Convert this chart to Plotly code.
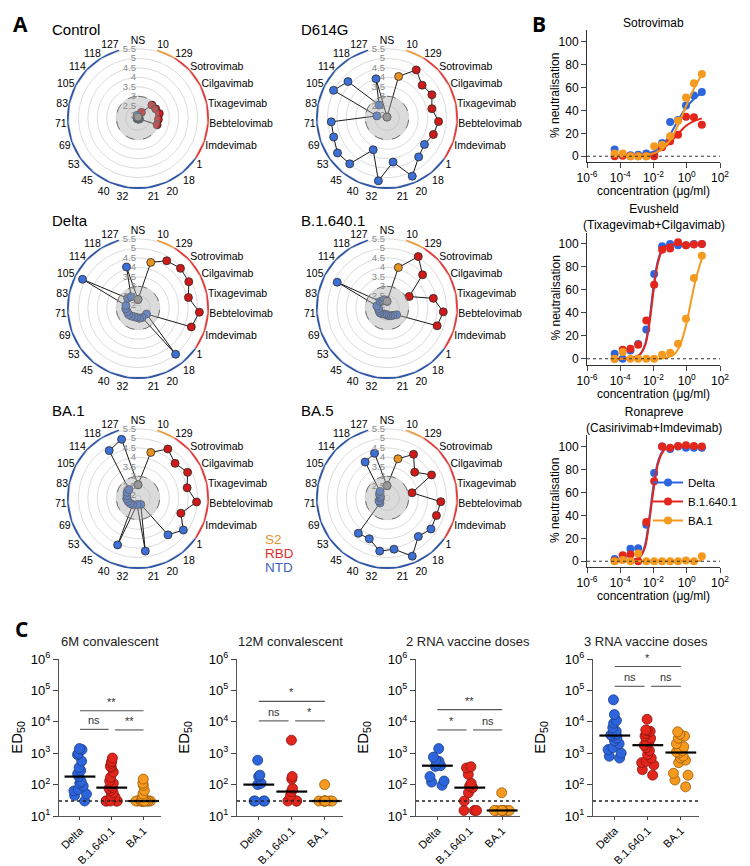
import math
import numpy as np
import plotly.graph_objects as go

W, H = 750, 866
FONT = "Liberation Sans, Arial, sans-serif"


def fx(p):
    return p / W


def fy(p):
    return 1 - p / H


# ---------------- Panel A : radar data ----------------
radar_categories = ["NS", "10", "129", "Sotrovimab", "Cilgavimab", "Tixagevimab", "Bebtelovimab",
                    "Imdevimab", "1", "18", "20", "21", "32", "40", "45", "53", "69", "71", "83",
                    "105", "114", "118", "127"]
radar_regions = ["NS", "S2", "RBD", "RBD", "RBD", "RBD", "RBD", "RBD",
                 "NTD", "NTD", "NTD", "NTD", "NTD", "NTD", "NTD", "NTD", "NTD", "NTD", "NTD",
                 "NTD", "NTD", "NTD", "NTD"]
radar_names = ["Control", "D614G", "Delta", "B.1.640.1", "BA.1", "BA.5"]
radar_control = [1.9, 1.95, 2.2, 2.85, 2.9, 3.0, 2.93, 2.92, 1.95, 1.9, 1.9, 1.9, 1.9, 1.9, 1.9,
                 1.9, 1.9, 1.9, 1.9, 1.9, 1.9, 1.9, 2.0]
radar_d614g = [1.9, 4.13, 4.82, 4.39, 4.52, 4.27, 4.58, 4.45, 4.27, 4.5, 5.2, 4.2, 5.2, 3.68, 4.97,
               5.05, 4.84, 4.8, 2.4, 5.03, 4.67, 2.65, 4.0]
radar_delta = [2.3, 4.35, 4.77, 4.92, 4.87, 4.57, 5.1, 4.84, 2.4, 5.0, 2.4, 2.4, 2.35, 2.35, 2.4,
               2.45, 2.45, 2.5, 2.5, 5.15, 2.6, 2.55, 4.1]
radar_b16401 = [2.2, 4.07, 5.03, 4.42, 3.17, 4.35, 4.83, 4.66, 2.47, 2.35, 2.3, 2.25, 2.2, 2.2,
                2.25, 2.3, 2.3, 2.3, 2.4, 4.81, 2.35, 2.3, 2.3]
radar_ba1 = [2.55, 4.35, 4.88, 4.53, 4.8, 4.5, 4.95, 4.25, 4.78, 4.36, 2.22, 4.68, 2.2, 4.55, 2.3,
             2.35, 2.4, 2.45, 2.45, 2.5, 2.5, 4.78, 5.07]
radar_ba5 = [2.5, 4.0, 4.55, 3.85, 4.5, 3.2, 4.7, 4.62, 4.69, 4.47, 5.2, 4.58, 4.68, 4.2, 4.25,
             2.3, 2.3, 2.2, 2.2, 2.3, 2.35, 4.07, 4.3]
radar_values = [radar_control, radar_d614g, radar_delta, radar_b16401, radar_ba1, radar_ba5]
radial_ticks = [2, 2.5, 3, 3.5, 4, 4.5, 5, 5.5]
region_labels = ["S2", "RBD", "NTD"]

# ---------------- Panel B : dose-response data ----------------
variants = ["Delta", "B.1.640.1", "BA.1"]
conc_ugml = [4.6e-5, 1.4e-4, 4.1e-4, 1.2e-3, 3.7e-3, 1.1e-2, 3.3e-2, 0.1, 0.3, 0.9, 2.7, 8.1]

sotro_delta = [5.8, 1.4, 0.9, 1.4, 2.3, 1.4, 11.6, 29.9, 31.5, 44.3, 53.0, 56.0]
sotro_b16401 = [0.0, 0.5, 0.0, 0.0, 0.0, 0.0, 7.8, 13.0, 18.8, 34.5, 33.9, 27.5]
sotro_ba1 = [2.3, 2.3, 0.0, 0.0, 0.0, 8.7, 10.0, 17.4, 31.0, 51.3, 63.5, 71.6]

evu_delta = [4.4, 0.0, 7.3, 12.8, 25.6, 73.8, 98.0, 100.0, 98.8, 98.8, 100.0, 100.0]
evu_b16401 = [0.0, 7.8, 8.7, 12.2, 33.4, 64.5, 95.0, 96.0, 101.5, 99.0, 99.5, 100.0]
evu_ba1 = [0.0, 5.8, 0.0, 0.0, 0.0, 0.0, 3.5, 5.2, 13.0, 34.9, 70.3, 89.8]

rona_delta = [2.0, 2.9, 11.0, 11.3, 31.9, 76.8, 100.0, 97.7, 100.0, 99.0, 99.0, 99.0]
rona_b16401 = [0.5, 5.2, 5.8, 0.0, 34.2, 69.6, 100.0, 99.0, 100.5, 101.0, 100.5, 100.0]
rona_ba1 = [0.0, 1.0, 0.0, 6.7, 0.0, 0.0, 0.0, 0.0, 0.0, 0.6, 0.0, 4.3]

# fitted curves at a few concentrations
sotro_fit_x = [4.6e-5, 3.2e-4, 1e-3, 3.2e-3, 1e-2, 3.2e-2, 0.1, 0.32, 1.0, 3.2, 8.1]
sotro_fit_delta = [0.3, 0.6, 1.0, 2.0, 4.0, 9.0, 19.0, 32.0, 43.0, 51.0, 55.0]
sotro_fit_b16401 = [0.0, 0.0, 0.3, 1.0, 2.5, 6.0, 12.0, 20.0, 27.0, 31.0, 33.0]
sotro_fit_ba1 = [0.0, 0.0, 0.3, 1.0, 2.5, 6.0, 14.0, 28.0, 45.0, 61.0, 71.0]

steep_fit_x = [4.6e-5, 3.2e-4, 1e-3, 1.8e-3, 3.2e-3, 5.6e-3, 1e-2, 1.8e-2, 3.2e-2, 5.6e-2, 0.1,
               1.0, 8.1]
evu_fit_delta = [0.0, 0.3, 2.0, 5.0, 13.0, 33.0, 63.0, 85.0, 95.0, 98.5, 99.5, 100.0, 100.0]
evu_fit_b16401 = [0.0, 0.3, 2.0, 5.0, 12.0, 30.0, 59.0, 83.0, 94.0, 98.0, 99.5, 100.0, 100.0]
evu_fit_ba1_x = [4.6e-5, 1e-2, 3.2e-2, 0.1, 0.18, 0.32, 0.56, 1.0, 1.8, 3.2, 5.6, 8.1]
evu_fit_ba1 = [0.0, 0.0, 0.3, 2.0, 4.0, 9.0, 18.0, 32.0, 50.0, 67.0, 80.0, 87.0]

rona_fit_delta = [0.0, 0.5, 2.0, 5.0, 15.0, 38.0, 66.0, 86.0, 95.0, 98.5, 99.5, 100.0, 100.0]
rona_fit_b16401 = [0.0, 0.5, 2.0, 5.0, 13.0, 35.0, 62.0, 84.0, 94.0, 98.0, 99.5, 100.0, 100.0]
rona_fit_ba1_x = [4.6e-5, 1e-2, 1.0, 8.1]
rona_fit_ba1 = [0.0, 0.0, 0.2, 0.5]

b_titles = ["Sotrovimab", "Evusheld<br>(Tixagevimab+Cilgavimab)", "Ronapreve<br>(Casirivimab+Imdevimab)"]
b_points = [[sotro_delta, sotro_b16401, sotro_ba1],
            [evu_delta, evu_b16401, evu_ba1],
            [rona_delta, rona_b16401, rona_ba1]]
b_fits = [[(sotro_fit_x, sotro_fit_delta), (sotro_fit_x, sotro_fit_b16401), (sotro_fit_x, sotro_fit_ba1)],
          [(steep_fit_x, evu_fit_delta), (steep_fit_x, evu_fit_b16401), (evu_fit_ba1_x, evu_fit_ba1)],
          [(steep_fit_x, rona_fit_delta), (steep_fit_x, rona_fit_b16401), (rona_fit_ba1_x, rona_fit_ba1)]]
b_xticks = [1e-6, 1e-4, 1e-2, 1, 1e2]
b_xticktext = ["10<sup>-6</sup>", "10<sup>-4</sup>", "10<sup>-2</sup>", "10<sup>0</sup>", "10<sup>2</sup>"]
b_yticks = [0, 20, 40, 60, 80, 100]
b_xtitle = "concentration (μg/ml)"
b_ytitle = "% neutralisation"

# ---------------- Panel C : ED50 data ----------------
m6_delta = [1400, 1300, 1000, 900, 560, 350, 280, 220, 180, 125, 110, 90, 70, 63, 50, 45, 30]
m6_b16401 = [700, 550, 480, 380, 350, 250, 170, 130, 110, 90, 80, 75, 65, 55, 45, 40, 30, 30, 30, 30, 30]
m6_ba1 = [150, 110, 95, 65, 50, 40, 30, 30, 30, 30, 30, 30, 30, 30, 30, 30, 30, 30, 30]

m12_delta = [600, 200, 180, 110, 100, 30, 30, 30, 30]
m12_b16401 = [2600, 180, 150, 75, 60, 45, 30, 30, 30]
m12_ba1 = [100, 30, 30, 30, 30, 30, 30, 30, 30]

v2_delta = [1400, 750, 600, 550, 450, 400, 380, 180, 130, 120, 95]
v2_b16401 = [370, 340, 210, 110, 90, 80, 55, 30, 15, 15, 15]
v2_ba1 = [55, 15, 15, 15, 15, 15, 15, 15, 15, 15]

v3_delta = [50000, 17000, 11000, 9000, 6500, 5000, 4500, 4000, 3800, 3500, 3000, 2500, 2000, 1500,
            1300, 1000, 800, 700]
v3_b16401 = [12000, 5500, 5200, 5000, 4200, 3500, 3000, 2500, 2200, 1800, 1500, 1200, 900, 700,
             550, 500, 420, 300, 200]
v3_ba1 = [4800, 4000, 3500, 3000, 2000, 1600, 1400, 1200, 1100, 1000, 800, 700, 600, 500, 230,
          200, 140, 85]

c_titles = ["6M convalescent", "12M convalescent", "2 RNA vaccine doses", "3 RNA vaccine doses"]
c_data = [[m6_delta, m6_b16401, m6_ba1], [m12_delta, m12_b16401, m12_ba1],
          [v2_delta, v2_b16401, v2_ba1], [v3_delta, v3_b16401, v3_ba1]]
# (from group, to group, ED50 level, label)
c_sig = [[(0, 2, 22400, "**"), (0, 1, 5750, "ns"), (1, 2, 5500, "**")],
         [(0, 2, 44700, "*"), (0, 1, 10700, "ns"), (1, 2, 10700, "*")],
         [(0, 2, 24500, "**"), (0, 1, 5500, "*"), (1, 2, 5500, "ns")],
         [(0, 2, 575000, "*"), (0, 1, 135000, "ns"), (1, 2, 135000, "ns")]]
detection_limit = 30
c_yticks = [1e1, 1e2, 1e3, 1e4, 1e5, 1e6]
c_yticktext = ["10<sup>1</sup>", "10<sup>2</sup>", "10<sup>3</sup>", "10<sup>4</sup>", "10<sup>5</sup>",
               "10<sup>6</sup>"]

# ---------------- styles ----------------
region_marker_color = {"NS": "#8e8e8e", "S2": "#e8921f", "RBD": "#cf1a1a", "NTD": "#3c70d6"}
ring_color = {"S2": "#ee9b3b", "RBD": "#e33b3b", "NTD": "#2e56a6"}
label_color = {"S2": "#e8922f", "RBD": "#e0302a", "NTD": "#3a64b8"}
variant_color = {"Delta": "#2d66dc", "B.1.640.1": "#e3261c", "BA.1": "#f59a1e"}
variant_edge = {"Delta": "#1d3f8a", "B.1.640.1": "#8a1510", "BA.1": "#9a5a0a"}
RADIAL_MIN, RADIAL_MAX = 1.85, 5.6
DISC_R = 3.0

fig = go.Figure()
layout = {}
annotations = []
shapes = []

# ================= Panel A =================
polar_centers = [(130, 110), (379, 110), (130, 300), (379, 300), (130, 490), (379, 490)]
R = 71
for i, (name, vals) in enumerate(zip(radar_names, radar_values)):
    sp = "polar" if i == 0 else f"polar{i + 1}"
    cx, cy = polar_centers[i]
    th = radar_categories + [radar_categories[0]]
    rr = list(vals) + [vals[0]]
    cols = [region_marker_color[g] for g in radar_regions]
    cols = cols + [cols[0]]
    fig.add_trace(go.Scatterpolar(
        r=rr, theta=th, mode="lines+markers", subplot=sp, showlegend=False,
        line=dict(color="#1a1a1a", width=1),
        marker=dict(color=cols, size=8, line=dict(color="#2a2a2a", width=0.8))))
    # shaded threshold disc drawn over the points
    fig.add_trace(go.Scatterpolar(
        r=[DISC_R] * len(th), theta=th, mode="lines", fill="toself", subplot=sp, showlegend=False,
        fillcolor="rgba(170,170,170,0.42)", line=dict(color="#6e6e6e", width=1, dash="dash")))
    # coloured outer ring
    for reg in region_labels:
        idx = [k for k, g in enumerate(radar_regions) if g == reg]
        last = idx[-1] + 1 if idx[-1] + 1 < len(radar_categories) else idx[-1]
        seg = radar_categories[idx[0]:last + 1]
        fig.add_trace(go.Scatterpolar(
            r=[RADIAL_MAX] * len(seg), theta=seg, mode="lines", subplot=sp, showlegend=False,
            cliponaxis=False, line=dict(color=ring_color[reg], width=2.6)))
    layout[sp] = dict(
        domain=dict(x=[fx(cx - R), fx(cx + R)], y=[fy(cy + R), fy(cy - R)]),
        bgcolor="white",
        radialaxis=dict(range=[RADIAL_MIN, RADIAL_MAX], tickvals=radial_ticks,
                        ticktext=[str(t) for t in radial_ticks], showline=False,
                        gridcolor="#dcdcdc", gridwidth=0.8, ticks="", angle=90, tickangle=90,
                        side="counterclockwise",
                        tickfont=dict(size=9.5, color="#8a8a8a", family=FONT)),
        angularaxis=dict(type="category", categoryarray=radar_categories, direction="clockwise",
                         rotation=90, showline=False, showgrid=False, ticks="",
                         tickfont=dict(size=10.5, color="black", family=FONT)),
    )
    annotations.append(dict(text=name, x=fx(cx - 88), y=fy(cy - 88), xref="paper", yref="paper",
                            xanchor="left", yanchor="middle", showarrow=False,
                            font=dict(size=15, color="black", family=FONT)))

for k, reg in enumerate(region_labels):
    annotations.append(dict(text=reg, x=fx(255), y=fy(531 + 14 * k), xref="paper", yref="paper",
                            xanchor="left", yanchor="middle", showarrow=False,
                            font=dict(size=13.5, color=label_color[reg], family=FONT)))

# ================= Panel B =================
b_ydom = [(154, 22), (356.5, 224.5), (559, 427)]
for j in range(3):
    ax = "" if j == 0 else str(j + 1)
    for v, pts, (fxv, fyv) in zip(variants, b_points[j], b_fits[j]):
        fig.add_trace(go.Scatter(x=fxv, y=fyv, mode="lines", line=dict(color=variant_color[v], width=2,
                                 shape="spline", smoothing=1.0),
                                 xaxis="x" + ax, yaxis="y" + ax, showlegend=False))
        fig.add_trace(go.Scatter(x=conc_ugml, y=pts, mode="markers",
                                 marker=dict(color=variant_color[v], size=8),
                                 xaxis="x" + ax, yaxis="y" + ax, showlegend=False, cliponaxis=False))
    layout["xaxis" + ax] = dict(domain=[fx(579), fx(712)], anchor="y" + ax, type="log", range=[-6, 2],
                                tickvals=b_xticks, ticktext=b_xticktext, ticks="outside", ticklen=5,
                                showline=True, linecolor="#333", linewidth=1, showgrid=False,
                                zeroline=False, automargin=False, tickfont=dict(size=12, color="black"))
    layout["yaxis" + ax] = dict(domain=[fy(b_ydom[j][0]), fy(b_ydom[j][1])], anchor="x" + ax,
                                range=[-5, 110], tickvals=b_yticks, ticks="outside", ticklen=5,
                                showline=True, linecolor="#333", linewidth=1, showgrid=False,
                                zeroline=False, automargin=False, tickfont=dict(size=12, color="black"))
    shapes.append(dict(type="line", xref=f"x{ax} domain", x0=0, x1=1, yref="y" + ax, y0=0, y1=0,
                       line=dict(color="#333", width=1.2, dash="dot")))
    annotations.append(dict(text=b_titles[j], x=fx(645.5), y=fy(b_ydom[j][1] + 2), xref="paper",
                            yref="paper", xanchor="center", yanchor="bottom", showarrow=False,
                            font=dict(size=12, color="black", family=FONT)))
    annotations.append(dict(text=b_xtitle, x=fx(645.5), y=fy(b_ydom[j][0] + 29), xref="paper",
                            yref="paper", xanchor="center", yanchor="middle", showarrow=False,
                            font=dict(size=12, color="black", family=FONT)))
    annotations.append(dict(text=b_ytitle, x=fx(547), y=fy((b_ydom[j][0] + b_ydom[j][1]) / 2),
                            xref="paper", yref="paper", xanchor="center", yanchor="middle",
                            textangle=-90, showarrow=False,
                            font=dict(size=12, color="black", family=FONT)))

for v in variants:
    fig.add_trace(go.Scatter(x=[None], y=[None], mode="lines+markers", name=v,
                             line=dict(color=variant_color[v], width=2),
                             marker=dict(color=variant_color[v], size=8), xaxis="x3", yaxis="y3"))

# ================= Panel C =================
c_xdom = [(51, 153), (229, 335), (408, 512), (585, 691)]
c_ydom = (808, 651)
for j in range(4):
    n = j + 4
    xa, ya = f"x{n}", f"y{n}"
    for k, (v, vals) in enumerate(zip(variants, c_data[j])):
        fig.add_trace(go.Box(
            x=[k] * len(vals), y=vals, boxpoints="all", jitter=0.85, pointpos=0, width=0.66,
            fillcolor="rgba(0,0,0,0)", line=dict(width=0, color="rgba(0,0,0,0)"),
            marker=dict(color=variant_color[v], size=10, line=dict(color=variant_edge[v], width=0.8)),
            xaxis=xa, yaxis=ya, showlegend=False, hoverinfo="y"))
        fig.add_trace(go.Scatter(
            x=[k], y=[float(np.median(vals))], mode="markers", xaxis=xa, yaxis=ya, showlegend=False,
            marker=dict(symbol="line-ew", size=22, line=dict(color="black", width=2.2))))
    layout[f"xaxis{n}"] = dict(domain=[fx(c_xdom[j][0]), fx(c_xdom[j][1])], anchor=ya,
                               range=[-0.66, 2.55], tickvals=[0, 1, 2], ticktext=variants,
                               tickangle=-45, ticks="outside", ticklen=3, showline=True,
                               linecolor="#555", linewidth=1.2, showgrid=False, zeroline=False,
                               automargin=False, tickfont=dict(size=11, color="black"))
    layout[f"yaxis{n}"] = dict(domain=[fy(c_ydom[0]), fy(c_ydom[1])], anchor=xa, type="log",
                               range=[1, 6], tickvals=c_yticks, ticktext=c_yticktext, ticks="outside",
                               ticklen=5, showline=True, linecolor="#555", linewidth=1.2,
                               showgrid=False, zeroline=False, automargin=False,
                               tickfont=dict(size=13, color="black"),
                               title=dict(text="ED<sub>50</sub>", font=dict(size=15, color="black")))
    shapes.append(dict(type="line", xref=f"{xa} domain", x0=0, x1=1, yref=ya, y0=detection_limit,
                       y1=detection_limit, line=dict(color="#222", width=1.5, dash="dot")))
    for (a, b, lvl, lab) in c_sig[j]:
        if b - a == 2:
            x0, x1 = a, b
        elif a == 0:
            x0, x1 = a, b - 0.1
        else:
            x0, x1 = a + 0.1, b
        shapes.append(dict(type="line", xref=xa, yref=ya, x0=x0, x1=x1, y0=lvl, y1=lvl,
                           line=dict(color="#555", width=1.1)))
        annotations.append(dict(text=lab, x=(x0 + x1) / 2, y=math.log10(lvl), xref=xa, yref=ya,
                                xanchor="center", yanchor="bottom", showarrow=False, yshift=1,
                                font=dict(size=11, color="#333", family=FONT)))
    annotations.append(dict(text=c_titles[j], x=fx((c_xdom[j][0] + c_xdom[j][1]) / 2), y=fy(633),
                            xref="paper", yref="paper", xanchor="center", yanchor="middle",
                            showarrow=False, font=dict(size=13, color="#222", family=FONT)))

# panel letters
for letter, (lx, ly) in zip(["A", "B", "C"], [(3, 16), (522, 16), (5, 621)]):
    annotations.append(dict(text=f"<b>{letter}</b>", x=fx(lx), y=fy(ly), xref="paper", yref="paper",
                            xanchor="left", yanchor="middle", showarrow=False,
                            font=dict(size=21, color="black", family="Open Sans, Liberation Sans")))

fig.update_layout(
    width=W, height=H, margin=dict(l=0, r=0, t=0, b=0, autoexpand=False),
    paper_bgcolor="white", plot_bgcolor="white",
    font=dict(family=FONT, color="black"),
    showlegend=True,
    legend=dict(x=fx(640), y=fy(460), xanchor="left", yanchor="top", font=dict(size=11.5),
                bgcolor="rgba(0,0,0,0)", tracegroupgap=0, itemwidth=30),
    annotations=annotations, shapes=shapes,
    **layout,
)

fig.write_html("out.html")
